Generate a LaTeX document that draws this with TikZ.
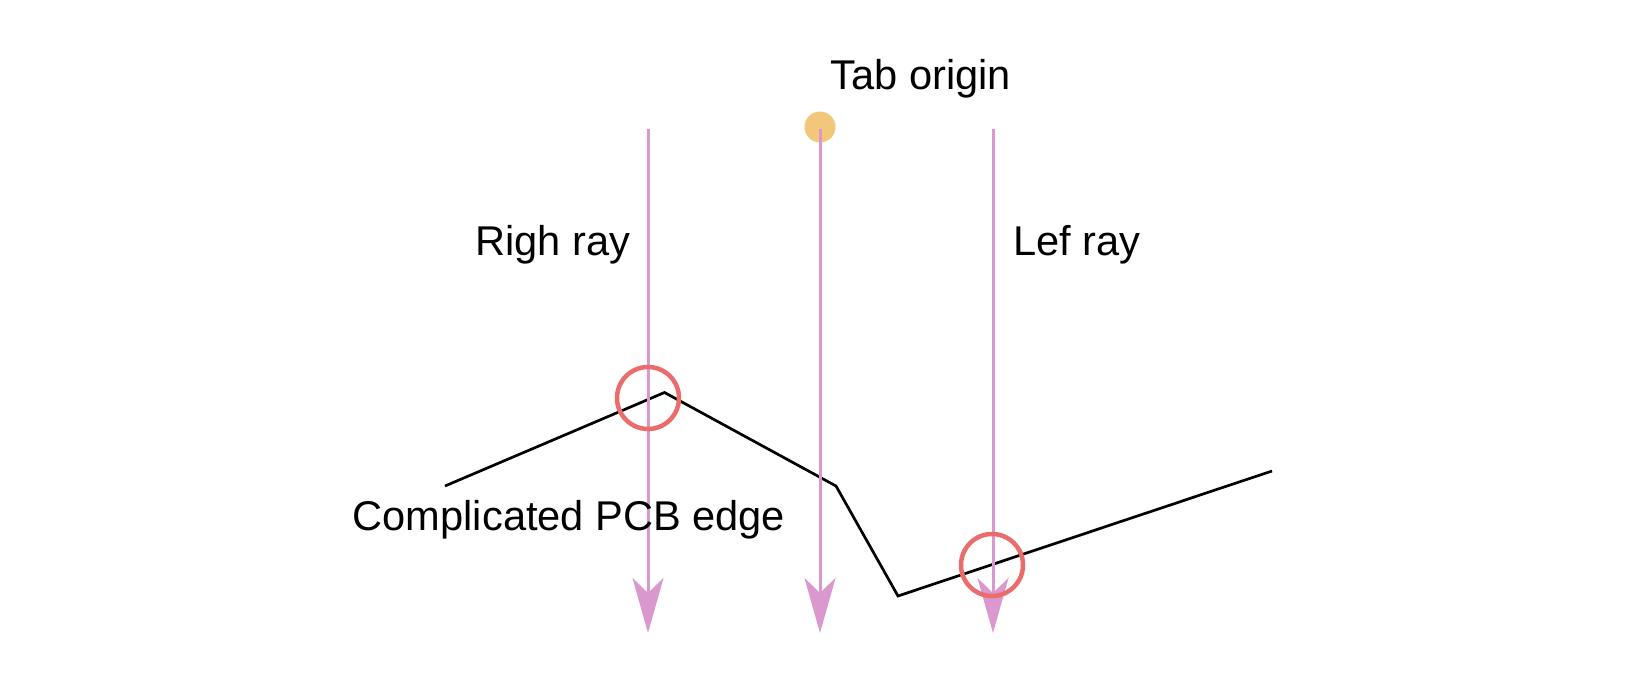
\documentclass[tikz,border=0pt]{standalone}
\usepackage{fontspec}
\setmainfont{Liberation Sans}
\usetikzlibrary{arrows.meta}
\definecolor{raycol}{RGB}{218,152,206}
\definecolor{hitcol}{RGB}{234,108,108}
\definecolor{dotcol}{RGB}{242,199,122}
\tikzset{
  ray/.style={draw=raycol, line width=3pt, -{Stealth[length=55pt,width=31pt,inset=15pt]}},
  hit/.style={circle, draw=hitcol, line width=4.5pt, minimum size=62pt, inner sep=0pt},
  lbl/.style={font=\fontsize{41.6}{50}\selectfont, inner sep=0pt, anchor=center},
  edge/.style={draw=black, line width=2.7pt, line join=miter}
}
\begin{document}
\begin{tikzpicture}[x=1pt,y=-1pt]
\useasboundingbox (0,0) rectangle (1628,693);
% edge
\coordinate (e1) at (445,486);
\coordinate (e2) at (664.5,392.5);
\coordinate (e3) at (836,486);
\coordinate (e4) at (898,596);
\coordinate (e5) at (1272,471);
\draw[edge] (e1) -- (e2) -- (e3) -- (e4) -- (e5);
% origin dot
\node[circle, fill=dotcol, minimum size=31pt, inner sep=0pt] (dot) at (820,127) {};
% rays
\coordinate (r1a) at (648,129); \coordinate (r1b) at (648,633);
\coordinate (r2a) at (820,129); \coordinate (r2b) at (820,633);
\coordinate (r3a) at (993,129); \coordinate (r3b) at (993,633);
\draw[ray] (r1a) -- (r1b);
\draw[ray] (r2a) -- (r2b);
\draw[ray] (r3a) -- (r3b);
% hit circles
\node[hit] (h1) at (648,398) {};
\node[hit] (h2) at (992,565) {};
% labels
\node[lbl] (tab) at (921,79) {Tab origin};
\node[lbl] (righ) at (553,245) {Righ ray};
\node[lbl] (lef) at (1077,245) {Lef ray};
\node[lbl] (pcb) at (569,520) {Complicated PCB edge};
\end{tikzpicture}
\end{document}
